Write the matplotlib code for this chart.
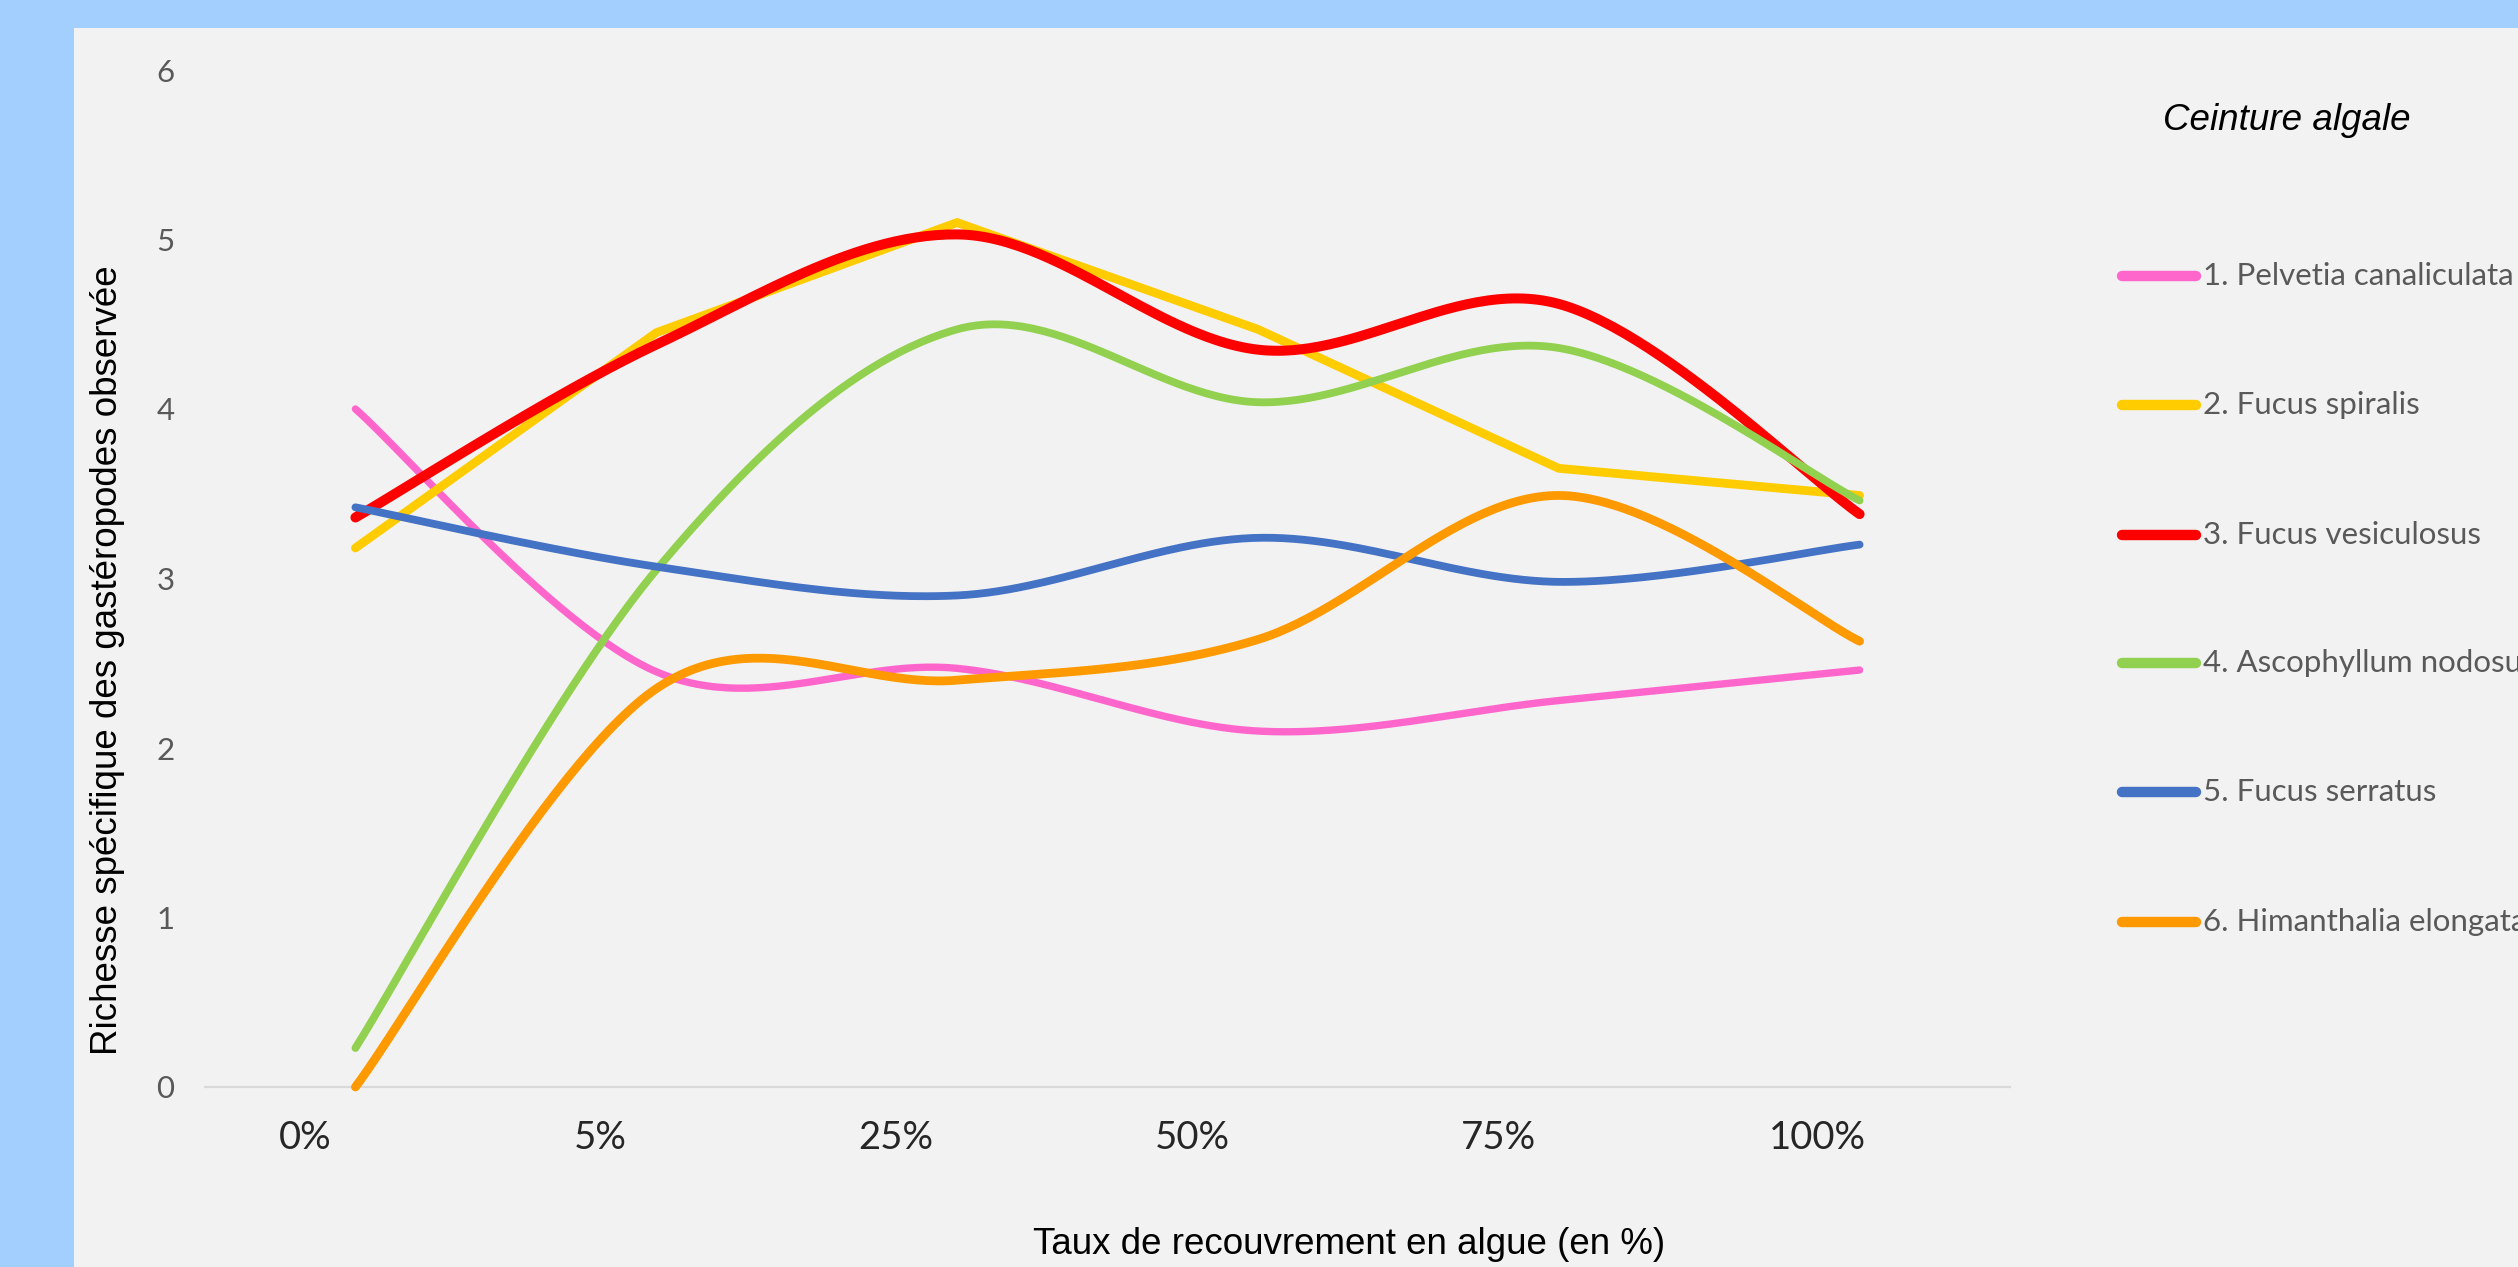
import numpy as np
import matplotlib
matplotlib.use("Agg")
import matplotlib.pyplot as plt
from matplotlib.lines import Line2D
from matplotlib.patches import Rectangle

# ---- data ----
categories = ['0%', '5%', '25%', '50%', '75%', '100%']
series_names = ['1. Pelvetia canaliculata', '2. Fucus spiralis', '3. Fucus vesiculosus',
                '4. Ascophyllum nodosum', '5. Fucus serratus', '6. Himanthalia elongata']
pelvetia = [4.00, 2.45, 2.47, 2.10, 2.28, 2.46]
spiralis = [3.18, 4.45, 5.10, 4.47, 3.65, 3.49]
vesiculosus = [3.36, 4.38, 5.03, 4.35, 4.62, 3.38]
ascophyllum = [0.23, 3.05, 4.47, 4.04, 4.36, 3.46]
serratus = [3.42, 3.07, 2.90, 3.24, 2.98, 3.20]
himanthalia = [0.00, 2.35, 2.40, 2.64, 3.49, 2.63]
yticks = [0, 1, 2, 3, 4, 5, 6]

values = [pelvetia, spiralis, vesiculosus, ascophyllum, serratus, himanthalia]
colors = ['#ff66cc', '#ffcc00', '#ff0000', '#92d050', '#4472c4', '#ff9900']
widths = [5.3, 6.3, 7.2, 5.6, 5.6, 6.3]
smooth = [True, False, True, True, True, True]


def catmull(xs, ys, n=60):
    xs = np.asarray(xs, float)
    ys = np.asarray(ys, float)
    P = np.column_stack([xs, ys])
    Pe = np.vstack([P[0], P, P[-1]])
    out = []
    t = np.linspace(0, 1, n)[:, None]
    for i in range(len(P) - 1):
        p0, p1, p2, p3 = Pe[i], Pe[i + 1], Pe[i + 2], Pe[i + 3]
        c1 = p1 + (p2 - p0) / 6.0
        c2 = p2 - (p3 - p1) / 6.0
        seg = ((1 - t) ** 3) * p1 + 3 * ((1 - t) ** 2) * t * c1 + 3 * (1 - t) * t ** 2 * c2 + t ** 3 * p2
        out.append(seg if i == 0 else seg[1:])
    pts = np.vstack(out)
    return pts[:, 0], pts[:, 1]


W, H = 2518, 1267
fig = plt.figure(figsize=(W / 100, H / 100), dpi=100)
fig.patch.set_facecolor('#a2cffe')
fig.patches.append(Rectangle((74 / W, 0), 1, 1 - 28 / H, transform=fig.transFigure,
                             facecolor='#f2f2f2', edgecolor='none', zorder=-5))

ax_left, ax_right = 205 / W, 2010 / W
ax_bottom = 1 - 1087 / H
ax_top = 1 - (1087 - 6 * 169.5) / H
ax = fig.add_axes([ax_left, ax_bottom, ax_right - ax_left, ax_top - ax_bottom])
ax.set_zorder(2)
ax.set_facecolor('none')

x = np.arange(len(categories))
for name, vals, c, lw, sm in zip(series_names, values, colors, widths, smooth):
    if sm:
        xs, ys = catmull(x, vals)
    else:
        xs, ys = x, np.asarray(vals)
    ax.plot(xs, ys, color=c, lw=lw, solid_capstyle='round', solid_joinstyle='miter',
            clip_on=False, label=name)

ax.set_xlim(-0.5, len(categories) - 0.5)
ax.set_ylim(0, 6)
for s in ['top', 'right', 'left']:
    ax.spines[s].set_visible(False)
ax.spines['bottom'].set_color('#d9d9d9')
ax.spines['bottom'].set_linewidth(1.6)
ax.spines['bottom'].set_zorder(0.5)

# tick labels (placed where they appear in the reference)
label_px = [305, 600, 896, 1192, 1498, 1817]
cat_w = (2010 - 205) / len(categories)
tick_pos = [(p - 205) / cat_w - 0.5 for p in label_px]
ax.set_xticks(tick_pos)
ax.set_xticklabels(categories, fontfamily='Lato', fontsize=27.5, color='#262626')
ax.tick_params(axis='x', length=0, pad=24)
ax.set_yticks(yticks)
ax.set_yticklabels([str(v) for v in yticks], fontfamily='Lato', fontsize=22.5, color='#595959')
ax.tick_params(axis='y', length=0, pad=22)

fig.text(108 / W, 1 - 660 / H, 'Richesse spécifique des gastéropodes observée',
         rotation=90, ha='center', va='center', fontfamily='Liberation Sans',
         fontsize=26.5, color='black')
fig.text(1349 / W, 1 - 1245 / H, 'Taux de recouvrement en algue (en %)',
         ha='center', va='center', fontfamily='Liberation Sans', fontsize=26.5, color='black')

# legend
fig.text(2287 / W, 1 - 120 / H, 'Ceinture algale', ha='center', va='center',
         fontfamily='Liberation Sans', fontstyle='italic', fontsize=26.5, color='black')
rows_px = [276, 405, 535, 663, 792, 922]
for name, c, ypx in zip(series_names, colors, rows_px):
    yf = 1 - ypx / H
    fig.add_artist(Line2D([2122 / W, 2196 / W], [yf, yf], transform=fig.transFigure,
                          color=c, lw=7.5, solid_capstyle='round'))
    fig.text(2203 / W, yf, name, ha='left', va='center', fontfamily='Lato',
             fontsize=22.5, color='#595959')

fig.savefig('out.png', dpi=100, facecolor=fig.get_facecolor())
